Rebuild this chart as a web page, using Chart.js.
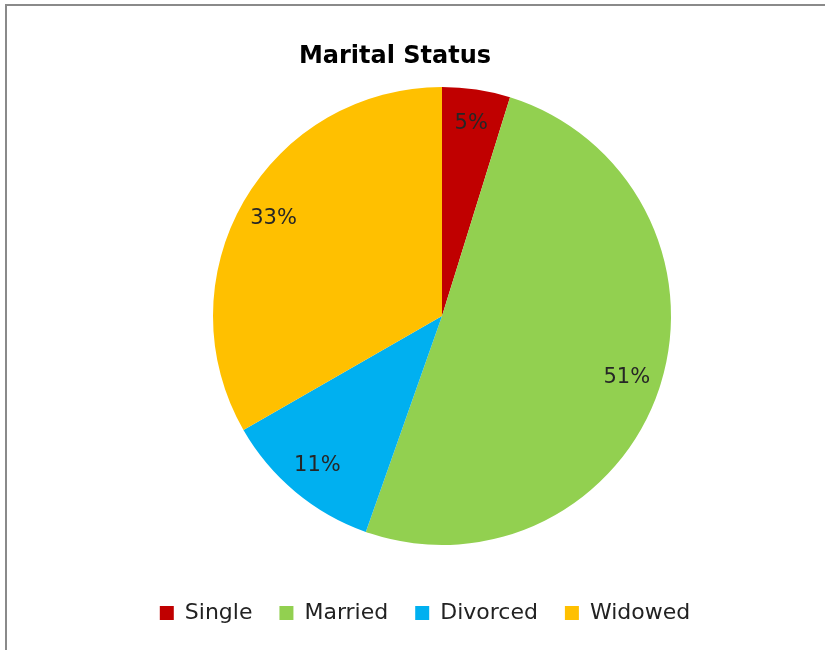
<!DOCTYPE html>
<html>
<head>
<meta charset="utf-8">
<script src="https://cdn.jsdelivr.net/npm/chart.js@4"></script>
<style>
    html, body { margin: 0; padding: 0; background: #fff; }
    #wrap { position: relative; width: 825px; height: 650px; }
    #frame {
        position: absolute; left: 5px; top: 4px; right: 0; bottom: 0;
        border-top: 2px solid #8a8a8a; border-left: 2px solid #8a8a8a;
        pointer-events: none;
    }
</style>
</head>
<body>
<div id="wrap">
    <canvas id="maritalChart" width="825" height="650"></canvas>
    <div id="frame"></div>
</div>
<script>
// values (share of respondents, %)
const categories = ["Single", "Married", "Divorced", "Widowed"];
const shares = [4.8, 50.6, 11.3, 33.3];
const sliceColors = ["#C00000", "#92D050", "#00B0F0", "#FFC000"];

const FONT = "'Century Gothic', 'DejaVu Sans', sans-serif";

// percent labels, drawn a bit out from the middle of each slice
const percentLabels = {
    id: "percentLabels",
    afterDatasetsDraw(chart) {
        const { ctx } = chart;
        const total = shares.reduce((a, b) => a + b, 0);
        chart.getDatasetMeta(0).data.forEach((arc, i) => {
            const { x, y, startAngle, endAngle, outerRadius } = arc.getProps(["x", "y", "startAngle", "endAngle", "outerRadius"], true);
            const mid = (startAngle + endAngle) / 2;
            const r = outerRadius * 0.85;
            ctx.save();
            ctx.font = "21px " + FONT;
            ctx.fillStyle = "#262626";
            ctx.textAlign = "center";
            ctx.textBaseline = "middle";
            ctx.fillText(Math.round(shares[i] / total * 100) + "%", x + Math.cos(mid) * r, y + Math.sin(mid) * r);
            ctx.restore();
        });
    },
};

// title and legend are not centred on the pie in the original
const nudgeBoxes = {
    id: "nudgeBoxes",
    afterLayout(chart) {
        if (chart.titleBlock) {
            chart.titleBlock.left -= 47;
            chart.titleBlock.right -= 47;
        }
        if (chart.legend) {
            chart.legend.left -= 17;
            chart.legend.right -= 17;
        }
    },
};

new Chart(document.getElementById("maritalChart"), {
    type: "pie",
    data: {
        labels: categories,
        datasets: [{
            data: shares,
            backgroundColor: sliceColors,
            borderWidth: 0,
            radius: 229,
        }],
    },
    options: {
        responsive: false,
        animation: false,
        layout: { padding: { left: 59, right: 0, top: 0, bottom: 16 } },
        plugins: {
            title: {
                display: true,
                text: "Marital Status",
                color: "#000",
                font: { family: FONT, size: 24, weight: "bold", lineHeight: 1.2 },
                padding: { top: 42, bottom: -13.8 },
            },
            legend: {
                position: "bottom",
                labels: {
                    color: "#222",
                    font: { family: FONT, size: 22 },
                    boxWidth: 14,
                    boxHeight: 14,
                    padding: 27,
                },
            },
            tooltip: { enabled: false },
        },
    },
    plugins: [percentLabels, nudgeBoxes],
});
</script>
</body>
</html>
